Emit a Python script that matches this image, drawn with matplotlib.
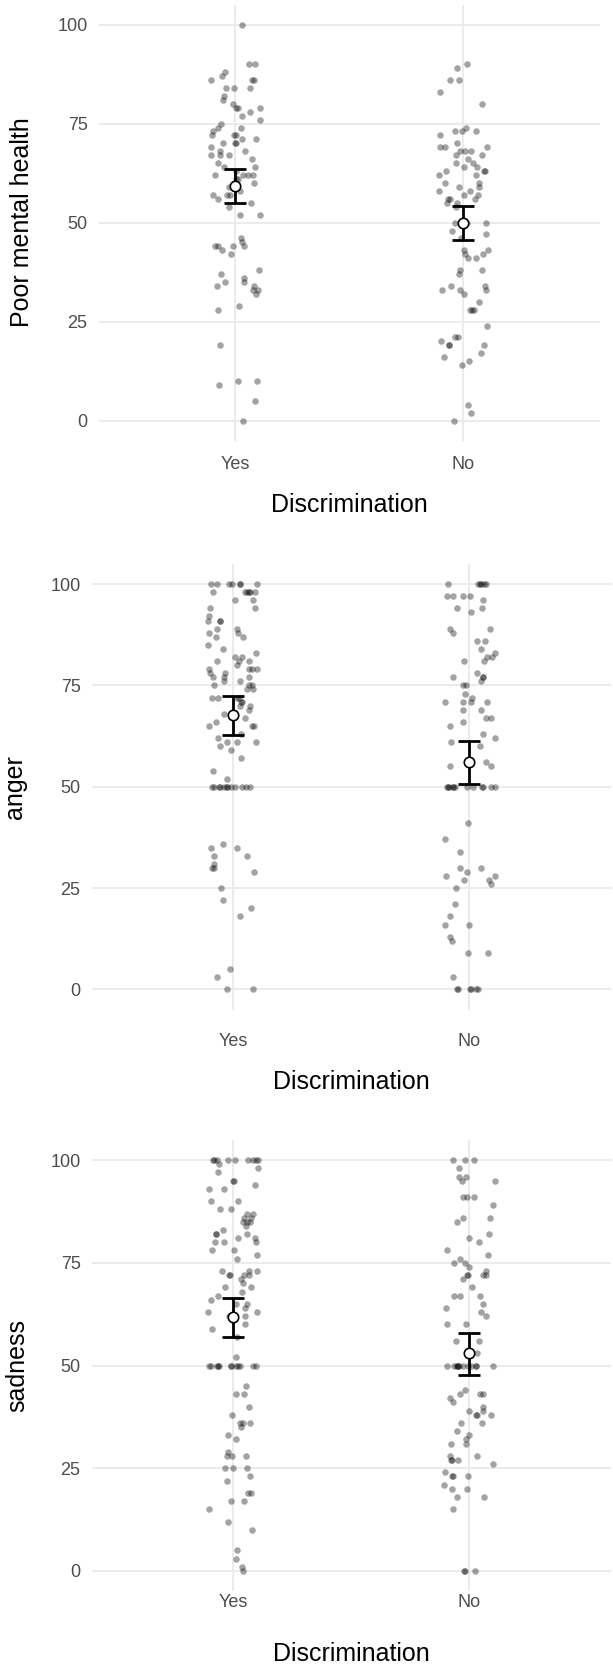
import numpy as np
import matplotlib
matplotlib.use("Agg")
import matplotlib.pyplot as plt

plt.rcParams['font.family'] = ['Liberation Sans', 'DejaVu Sans']

groups = ["Yes", "No"]

# poor mental health
pmh_yes = [100, 90, 90, 87, 88, 86, 86, 86, 84, 84, 84, 82, 81, 80, 79, 79, 79, 78, 77, 76,
           75, 74, 74, 73, 72, 72, 72, 71, 71, 70, 70, 70, 69, 68, 68, 67, 67, 67, 66, 65,
           64, 64, 63, 62, 62, 62, 62, 61, 61, 60, 59, 58, 57, 57, 57, 56, 55, 54, 52, 52,
           46, 45, 44, 44, 44, 43, 42, 44, 38, 37, 36, 35, 34, 35, 34, 33, 33, 32, 29, 28,
           19, 10, 10, 9, 5, 0]
pmh_no = [90, 89, 86, 86, 83, 80, 73, 74, 73, 73, 72, 70, 69, 69, 69, 68, 68, 68, 67, 67,
          66, 65, 65, 64, 64, 63, 63, 63, 62, 62, 60, 60, 59, 59, 58, 58, 57, 57, 56, 56,
          56, 55, 55, 54, 50, 50, 50, 48, 47, 46, 43, 43, 42, 42, 41, 41, 38, 38, 37, 34,
          33, 33, 32, 33, 34, 30, 28, 28, 28, 24, 21, 21, 19, 20, 19, 19, 17, 16, 15, 14,
          4, 2, 0]

anger_yes = [100, 100, 100, 100, 100, 100, 100, 98, 98, 98, 98, 98, 98, 96, 96, 94, 94,
             92, 91, 91, 91, 89, 89, 88, 88, 87, 87, 85, 84, 83, 82, 81, 82, 81, 81,
             80, 79, 79, 79, 79, 78, 78, 77, 77, 76, 77, 76, 75, 75, 75, 74, 74,
             72, 72, 71, 72, 72, 71, 70, 70, 69, 68, 67, 65, 65, 66, 65, 63, 62, 61,
             61, 61, 60, 59, 57, 54, 52,
             50, 50, 50, 50, 50, 50, 50, 50, 50, 50, 50, 50,
             35, 36, 35, 33, 33, 31, 30, 30, 29, 25, 22, 20, 18, 3, 5, 0, 0]
anger_no = [100, 100, 100, 100, 100, 100, 97, 97, 97, 96, 97, 94, 93, 94,
            89, 89, 88, 86, 86, 84, 83, 82, 82, 81, 81, 78, 77, 77, 77, 76, 75, 75, 73,
            71, 71, 71, 71, 72, 69, 69, 67, 67, 66, 65, 63, 62, 61, 60, 56, 55, 55,
            50, 50, 50, 50, 50, 50, 50, 50, 50, 50, 50, 50,
            41, 37, 34, 30, 30, 29, 28, 28, 27, 26, 25, 27, 21, 18, 16, 16, 13, 12, 9, 9, 3,
            0, 0, 0, 0, 0, 0]

sad_yes = [100, 100, 100, 100, 100, 100, 100, 100, 100, 99, 98, 97, 95, 95, 94, 93, 93,
           90, 90, 88, 88, 87, 85, 85, 87, 86, 86, 85, 84, 83, 82, 82, 82, 81, 81, 80, 80,
           80, 78, 78, 77, 76, 73, 73, 72, 72, 71, 73, 72, 72, 70, 69, 69, 68, 67,
           65, 65, 66, 64, 63, 63, 62, 62, 62, 62, 60, 59, 57, 52,
           50, 50, 50, 50, 50, 50, 50, 50, 50, 50, 50, 50,
           45, 43, 43, 40, 38, 36, 36, 36, 35, 33, 32, 29, 28, 28, 28, 25, 25, 25, 23, 22,
           19, 19, 17, 17, 15, 12, 10, 5, 3, 1, 0]
sad_no = [100, 100, 100, 98, 96, 96, 95, 95, 91, 91, 91, 89, 86, 86, 85, 82, 81, 80, 78,
          77, 76, 74, 75, 75, 73, 72, 72, 72, 72, 71, 69, 67, 67, 67, 65, 64, 63, 62, 60,
          60, 56, 56, 53,
          50, 50, 50, 50, 50, 50, 50, 50, 50, 50, 50, 50,
          44, 43, 43, 41, 42, 43, 40, 39, 38, 38, 38, 39, 36, 36, 34, 32, 33, 31, 31,
          28, 28, 27, 27, 27, 26, 24, 23, 23, 23, 21, 20, 20, 18, 18, 15, 0, 0, 0]

# mean and interval shown as the white point with error bar
pmh_mean = [59.2, 49.9]
pmh_lo = [55.0, 45.5]
pmh_hi = [63.6, 54.1]
anger_mean = [67.6, 56.2]
anger_lo = [62.7, 50.8]
anger_hi = [72.4, 61.4]
sad_mean = [61.7, 53.0]
sad_lo = [56.9, 47.8]
sad_hi = [66.5, 57.9]

W, H = 613, 1664
fig = plt.figure(figsize=(W / 100, H / 100), dpi=100)

panels = [
    # (yes, no, mean, lo, hi, ylabel, box in px, ylabel x, xtick pad, xtitle y)
    (pmh_yes, pmh_no, pmh_mean, pmh_lo, pmh_hi, "Poor mental health",
     (98.7, 4.7, 600.3, 440.5), 22, 11.5, 505),
    (anger_yes, anger_no, anger_mean, anger_lo, anger_hi, "anger",
     (91.7, 563.8, 610.9, 1009.7), 15, 16.5, 1082),
    (sad_yes, sad_no, sad_mean, sad_lo, sad_hi, "sadness",
     (91.7, 1139.6, 610.9, 1591.4), 17, 2, 1654),
]

rng = np.random.default_rng(7)
grid_col = "#ebebeb"
txt_col = "#4d4d4d"

for yes, no, mean, lo, hi, ylab, box, ylab_x, xpad, xtitle_y in panels:
    left, top, right, bottom = box
    ax = fig.add_axes([left / W, 1 - bottom / H, (right - left) / W, (bottom - top) / H])

    for i, vals in enumerate([yes, no]):
        vals = np.array(vals, dtype=float)
        xs = i + 1 + rng.uniform(-0.11, 0.11, len(vals))
        ax.scatter(xs, vals, s=22, color="black", alpha=0.36, linewidths=0, zorder=3)

    mean = np.array(mean)
    yerr = [mean - np.array(lo), np.array(hi) - mean]
    ax.errorbar([1, 2], mean, yerr=yerr, fmt="none", ecolor="black",
                elinewidth=2, capsize=8, capthick=2, zorder=4)
    ax.plot([1, 2], mean, "o", ms=7.5, mfc="white", mec="black", mew=1.2,
            ls="none", zorder=5)

    ax.set_xlim(0.4, 2.6)
    ax.set_ylim(-5, 105)
    ax.set_xticks([1, 2])
    ax.set_xticklabels(groups)
    ax.set_yticks([0, 25, 50, 75, 100])
    ax.grid(True, color=grid_col, linewidth=1.4)
    ax.set_axisbelow(True)
    for s in ax.spines.values():
        s.set_visible(False)
    ax.tick_params(axis="both", length=0, labelsize=13, labelcolor=txt_col)
    ax.tick_params(axis="y", pad=8)
    ax.tick_params(axis="x", pad=xpad)

    fig.text(ylab_x / W, 1 - (top + bottom) / 2 / H, ylab, rotation=90,
             ha="center", va="center", fontsize=18, color="black")
    fig.text((left + right) / 2 / W, 1 - xtitle_y / H, "Discrimination",
             ha="center", va="center", fontsize=18, color="black")

fig.savefig("out.png", dpi=100, facecolor="white")
